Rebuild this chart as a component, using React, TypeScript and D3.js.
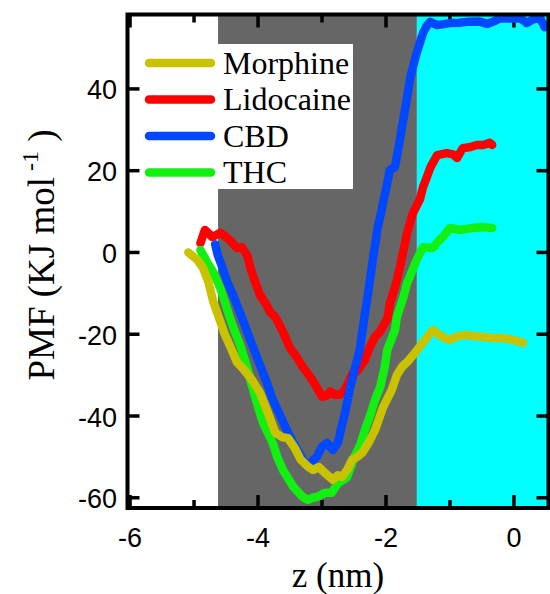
import React from "react";
import * as d3 from "d3";

// PMF profiles (z in nm, PMF in kJ/mol)
const morphine: [number, number][] = [
  [-5.09, 0], [-4.95, -1.8], [-4.86, -3.8], [-4.78, -7], [-4.7, -12], [-4.61, -16], [-4.52, -20],
  [-4.42, -23.5], [-4.33, -26.8], [-4.23, -28.5], [-4.1, -31], [-3.97, -34.3], [-3.85, -39],
  [-3.73, -44.1], [-3.62, -45.2], [-3.53, -45.4], [-3.42, -48], [-3.34, -50.5], [-3.22, -52.4],
  [-3.14, -53.2], [-3.05, -52.5], [-2.95, -54], [-2.83, -55.6], [-2.75, -54.5], [-2.69, -54.9],
  [-2.6, -53], [-2.53, -50.7], [-2.45, -50], [-2.37, -49], [-2.27, -46.5], [-2.17, -43.4],
  [-2.05, -38], [-1.91, -33.6], [-1.83, -30], [-1.75, -28], [-1.65, -26.5], [-1.55, -24.6],
  [-1.42, -22], [-1.27, -19], [-1.2, -19.7], [-1.13, -20.6], [-1.0, -21.4], [-0.9, -20.6],
  [-0.77, -20.2], [-0.6, -20.5], [-0.48, -20.7], [-0.34, -20.9], [-0.15, -21], [0, -21.4],
  [0.14, -22.1],
];

const lidocaine: [number, number][] = [
  [-4.9, 2.3], [-4.83, 5.5], [-4.76, 4.5], [-4.72, 3.8], [-4.66, 4.2], [-4.59, 4.8], [-4.5, 3.8],
  [-4.44, 3], [-4.37, 1.8], [-4.33, 1.1], [-4.25, 1.3], [-4.16, -1.1], [-4.12, -3.8], [-4.05, -7],
  [-3.97, -10.4], [-3.88, -12.5], [-3.81, -14.6], [-3.73, -15.8], [-3.61, -19.4], [-3.5, -23.4],
  [-3.42, -25], [-3.3, -28], [-3.19, -30.3], [-3.1, -32.5], [-3.0, -35.3], [-2.93, -35],
  [-2.87, -34], [-2.8, -34.8], [-2.72, -34.8], [-2.64, -33.6], [-2.58, -31.5], [-2.52, -29.5],
  [-2.45, -29], [-2.33, -26.3], [-2.25, -23], [-2.17, -20.6], [-2.1, -19.5], [-2.05, -18.2],
  [-1.97, -15.8], [-1.94, -12.4], [-1.86, -8.5], [-1.78, -3.5], [-1.67, 4.8], [-1.58, 9.6],
  [-1.47, 13], [-1.42, 16], [-1.3, 21], [-1.2, 23.8], [-1.05, 24.3], [-0.95, 24], [-0.89, 23.1],
  [-0.8, 25.5], [-0.68, 25.8], [-0.58, 26.3], [-0.48, 26.3], [-0.38, 26.8], [-0.34, 26.3],
];

const cbd: [number, number][] = [
  [-4.67, 2.0], [-4.63, -0.6], [-4.55, -4], [-4.48, -7.2], [-4.4, -10], [-4.33, -12.8],
  [-4.25, -16], [-4.17, -19.4], [-4.07, -23.5], [-3.97, -27.5], [-3.87, -31.5], [-3.77, -36],
  [-3.65, -40], [-3.55, -43.4], [-3.45, -46.5], [-3.34, -49.5], [-3.23, -52.4], [-3.15, -51],
  [-3.08, -50], [-3.0, -47.5], [-2.92, -46.6], [-2.83, -48.3], [-2.75, -46.5], [-2.7, -43],
  [-2.64, -39.3], [-2.56, -33], [-2.48, -28], [-2.41, -23.8], [-2.33, -15], [-2.28, -10],
  [-2.2, -1.1], [-2.13, 6], [-2.06, 11], [-1.98, 17], [-1.94, 20.2], [-1.86, 20.9], [-1.8, 26],
  [-1.75, 30.7], [-1.68, 37], [-1.62, 42.9], [-1.52, 48.8], [-1.42, 53.7], [-1.36, 55.5],
  [-1.31, 56.4], [-1.2, 55.6], [-1.0, 56.1], [-0.85, 56.2], [-0.73, 56.4], [-0.55, 56.5],
  [-0.42, 55.9], [-0.3, 56.6], [-0.22, 57.3], [0, 57.2], [0.1, 57.3], [0.2, 56.1], [0.3, 57],
  [0.41, 57.3], [0.48, 55.1],
];

const thc: [number, number][] = [
  [-4.9, 0.6], [-4.8, -2.3], [-4.7, -4.8], [-4.59, -8.7], [-4.52, -12], [-4.44, -16],
  [-4.36, -19.5], [-4.28, -22.6], [-4.17, -28.2], [-4.12, -31.2], [-4.05, -35], [-3.97, -39.3],
  [-3.92, -41.7], [-3.85, -44], [-3.77, -46.6], [-3.7, -50], [-3.61, -53.2], [-3.52, -55.5],
  [-3.45, -57.3], [-3.38, -58.5], [-3.3, -59.8], [-3.22, -60.5], [-3.15, -60], [-3.08, -59.8],
  [-2.95, -58.8], [-2.85, -58.8], [-2.75, -56.4], [-2.61, -55], [-2.48, -49.5], [-2.4, -47],
  [-2.33, -43.4], [-2.25, -40], [-2.17, -36], [-2.09, -32.9], [-2.02, -28], [-1.98, -23.8],
  [-1.86, -19], [-1.83, -15.8], [-1.73, -11], [-1.67, -7.5], [-1.52, -1.8], [-1.42, 1.3],
  [-1.27, 1.1], [-1.16, 3.1], [-1.11, 3.8], [-1.0, 6], [-0.84, 5.5], [-0.64, 6], [-0.48, 6.2],
  [-0.34, 6],
];

const legendNames = ["Morphine", "Lidocaine", "CBD", "THC"];
const seriesColors = ["#c9c200", "#ff0000", "#0048ff", "#11f011"];
const seriesData = [morphine, lidocaine, cbd, thc];
// drawing order (back to front): Lidocaine, THC, CBD, Morphine
const drawOrder = [1, 3, 2, 0];

const xMajorTicks = [-6, -4, -2, 0];
const xMinorTicks = [-5, -3, -1];
const yMajorTicks = [-60, -40, -20, 0, 20, 40];

// membrane regions along z
const headgroupRegion = [-4.625, -1.517];
const waterRegion = [-1.517, 0.54];

const W = 550;
const H = 594;

export default function App() {
  const x = d3.scaleLinear().domain([-6.04, 0.54]).range([127.5, 548.5]);
  const y = d3.scaleLinear().domain([-62.5, 58.2]).range([508, 14.5]);
  const line = d3
    .line<[number, number]>()
    .x((d) => x(d[0]))
    .y((d) => y(d[1]));

  const [x0, x1] = x.range();
  const [yb, yt] = y.range();
  const tickFont = "Liberation Sans, Arial, sans-serif";
  const serif = "Liberation Serif, DejaVu Serif, serif";

  return (
    <svg
      width={W}
      height={H}
      style={{ position: "absolute", left: 0, top: 0, background: "#fff" }}
    >
      {/* shaded regions */}
      <rect
        x={x(headgroupRegion[0])}
        y={yt}
        width={x(headgroupRegion[1]) - x(headgroupRegion[0])}
        height={yb - yt}
        fill="#666666"
      />
      <rect
        x={x(waterRegion[0])}
        y={yt}
        width={x(waterRegion[1]) - x(waterRegion[0])}
        height={yb - yt}
        fill="#00ffff"
      />

      {/* ticks (inward) */}
      <g stroke="#000" strokeWidth={3.5}>
        {xMajorTicks.map((t) => (
          <g key={"xM" + t}>
            <line x1={x(t)} x2={x(t)} y1={yb} y2={yb - 13} />
            <line x1={x(t)} x2={x(t)} y1={yt} y2={yt + 13} />
          </g>
        ))}
        {xMinorTicks.map((t) => (
          <g key={"xm" + t}>
            <line x1={x(t)} x2={x(t)} y1={yb} y2={yb - 8} />
            <line x1={x(t)} x2={x(t)} y1={yt} y2={yt + 8} />
          </g>
        ))}
        {yMajorTicks.map((t) => (
          <g key={"yM" + t}>
            <line x1={x0} x2={x0 + 12} y1={y(t)} y2={y(t)} />
            <line x1={x1} x2={x1 - 12} y1={y(t)} y2={y(t)} />
          </g>
        ))}
      </g>

      {/* legend box */}
      <rect x={140} y={44} width={213} height={145} fill="#fff" />

      {/* curves */}
      {drawOrder.map((i) => (
        <path
          key={legendNames[i]}
          d={line(seriesData[i]) || ""}
          fill="none"
          stroke={seriesColors[i]}
          strokeWidth={8.5}
          strokeLinejoin="round"
          strokeLinecap="round"
        />
      ))}

      {/* frame */}
      <rect
        x={x0}
        y={yt}
        width={x1 - x0}
        height={yb - yt}
        fill="none"
        stroke="#000"
        strokeWidth={4}
      />

      {/* legend entries */}
      {legendNames.map((name, i) => {
        const ly = 63 + i * 36.5;
        return (
          <g key={name}>
            <line
              x1={149}
              x2={211}
              y1={ly}
              y2={ly}
              stroke={seriesColors[i]}
              strokeWidth={8.5}
              strokeLinecap="round"
            />
            <text x={223} y={ly + 10.5} fontFamily={serif} fontSize={32} fill="#000">
              {name}
            </text>
          </g>
        );
      })}

      {/* tick labels */}
      {xMajorTicks.map((t) => (
        <text
          key={"xl" + t}
          x={x(t)}
          y={547}
          textAnchor="middle"
          fontFamily={tickFont}
          fontSize={27}
          fill="#000"
        >
          {t}
        </text>
      ))}
      {yMajorTicks.map((t) => (
        <text
          key={"yl" + t}
          x={117}
          y={y(t) + 10.5}
          textAnchor="end"
          fontFamily={tickFont}
          fontSize={27}
          fill="#000"
        >
          {t}
        </text>
      ))}

      {/* axis titles */}
      <text
        x={(x0 + x1) / 2}
        y={587}
        textAnchor="middle"
        fontFamily={serif}
        fontSize={35}
        fill="#000"
      >
        z (nm)
      </text>
      <text
        transform="translate(54, 255) rotate(-90)"
        textAnchor="middle"
        fontFamily={serif}
        fontSize={37}
        fill="#000"
      >
        PMF (KJ mol
        <tspan dy={-16} fontSize={24}>
          {" -1"}
        </tspan>
        <tspan dy={16}>{" )"}</tspan>
      </text>
    </svg>
  );
}
